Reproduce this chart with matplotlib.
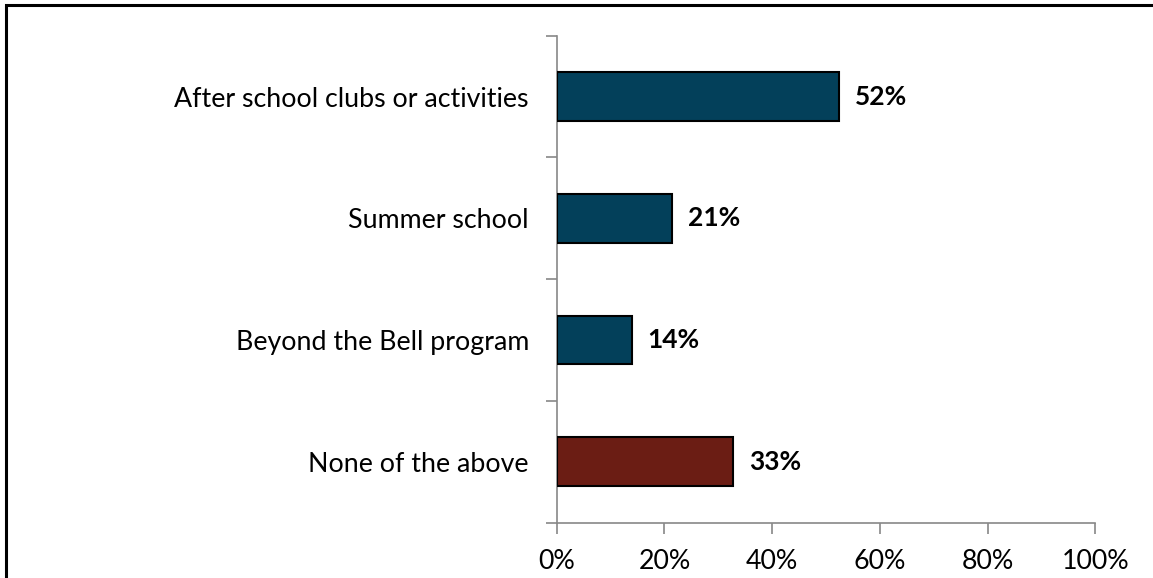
import matplotlib.pyplot as plt
from matplotlib.patches import Rectangle

plt.rcParams['font.family'] = ['Lato', 'DejaVu Sans']

categories = ["After school clubs or activities", "Summer school",
              "Beyond the Bell program", "None of the above"]
values = [52.4, 21.4, 13.9, 32.7]
colors = ["#03405A", "#03405A", "#03405A", "#6B1D14"]
xticks = [0, 20, 40, 60, 80, 100]

fig = plt.figure(figsize=(11.53, 5.78), dpi=100)
ax = fig.add_axes([556.7 / 1153, 1 - 522.7 / 578, 538.6 / 1153, 487 / 578])

pos = list(range(len(categories)))
ax.barh(pos, values, height=0.40, color=colors, edgecolor="black", linewidth=1.5, zorder=3)
for p, v in zip(pos, values):
    ax.text(v + 3.0, p, f"{v:.0f}%", va="center", ha="left",
            fontsize=19, fontweight="bold", color="black")

ax.set_ylim(len(categories) - 0.5, -0.5)
ax.set_xlim(0, 100)
ax.set_yticks(pos)
ax.set_yticklabels(categories)
ax.set_yticks([i - 0.5 for i in range(len(categories) + 1)], minor=True)
ax.tick_params(axis="y", which="major", length=0, pad=20, labelsize=19.3)
ax.tick_params(axis="y", which="minor", length=8, width=1.2, color="#888888")
ax.set_xticks(xticks)
ax.set_xticklabels([f"{t}%" for t in xticks])
ax.tick_params(axis="x", length=8, width=1.2, color="#888888", pad=11, labelsize=19.3)

for side in ["top", "right"]:
    ax.spines[side].set_visible(False)
for side in ["left", "bottom"]:
    ax.spines[side].set_color("#888888")
    ax.spines[side].set_linewidth(1.2)

# outer frame round the whole chart
fig.patches.append(Rectangle((6 / 1153, -0.1), 1.2, 1.1 - 5.5 / 578,
                             transform=fig.transFigure, fill=False,
                             edgecolor="black", linewidth=2.2))

fig.savefig("out.png", dpi=100)
